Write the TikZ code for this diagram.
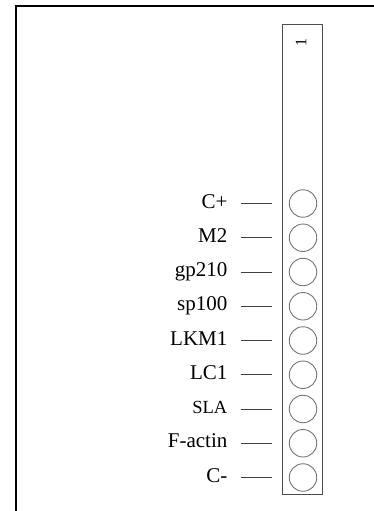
\documentclass[tikz,border=0pt]{standalone}
\usepackage{fontspec}
\setmainfont{Liberation Serif}
\usetikzlibrary{positioning}
\tikzstyle{sDot} = [circle, minimum size=27.5pt, inner sep=0pt, draw=black!55, line width=0.9pt]
\tikzstyle{sLabel} = [inner sep=0pt, text height=13pt, text depth=4pt, font=\fontsize{21}{24}\selectfont]
\tikzstyle{sSmallLabel} = [sLabel, font=\fontsize{18.5}{21}\selectfont]
\tikzstyle{sTick} = [draw=black!75, line width=0.9pt, shorten <=13pt, shorten >=17.25pt]
\tikzstyle{sStrip} = [rectangle, draw=black!70, line width=0.9pt, minimum width=40pt, minimum height=469.5pt, inner sep=0pt]
\tikzstyle{sFrame} = [line width=2pt, draw=black]

\begin{document}
\begin{tikzpicture}[x=1pt, y=-1pt, node distance=34.25pt]
    \useasboundingbox (0,0) rectangle (374,511);
    \draw [sFrame] (16,520) -- (16,6) -- (380,6);

    \node (strip) [sStrip] at (302.5,259.25) {};
    \node (laneNum) [rotate=90, inner sep=0pt, font=\fontsize{16}{19}\selectfont] at (301,43) {1};

    \node (dotCpos) [sDot] at (303,203.5) {};
    \node (dotMtwo) [sDot, below of=dotCpos] {};
    \node (dotGp) [sDot, below of=dotMtwo] {};
    \node (dotSp) [sDot, below of=dotGp] {};
    \node (dotLkm) [sDot, below of=dotSp] {};
    \node (dotLc) [sDot, below of=dotLkm] {};
    \node (dotSla) [sDot, below of=dotLc] {};
    \node (dotActin) [sDot, below of=dotSla] {};
    \node (dotCneg) [sDot, below of=dotActin] {};

    \node (labCpos) [sLabel, left=61.25pt of dotCpos] {C+};
    \node (labMtwo) [sLabel, left=61.25pt of dotMtwo] {M2};
    \node (labGp) [sLabel, left=61.25pt of dotGp] {gp210};
    \node (labSp) [sLabel, left=61.25pt of dotSp] {sp100};
    \node (labLkm) [sLabel, left=61.25pt of dotLkm] {LKM1};
    \node (labLc) [sLabel, left=61.25pt of dotLc] {LC1};
    \node (labSla) [sSmallLabel, left=61.25pt of dotSla] {SLA};
    \node (labActin) [sLabel, left=61.25pt of dotActin] {F-actin};
    \node (labCneg) [sLabel, left=61.25pt of dotCneg] {C-};

    \draw [sTick] (labCpos) -- (dotCpos);
    \draw [sTick] (labMtwo) -- (dotMtwo);
    \draw [sTick] (labGp) -- (dotGp);
    \draw [sTick] (labSp) -- (dotSp);
    \draw [sTick] (labLkm) -- (dotLkm);
    \draw [sTick] (labLc) -- (dotLc);
    \draw [sTick] (labSla) -- (dotSla);
    \draw [sTick] (labActin) -- (dotActin);
    \draw [sTick] (labCneg) -- (dotCneg);
\end{tikzpicture}
\end{document}
